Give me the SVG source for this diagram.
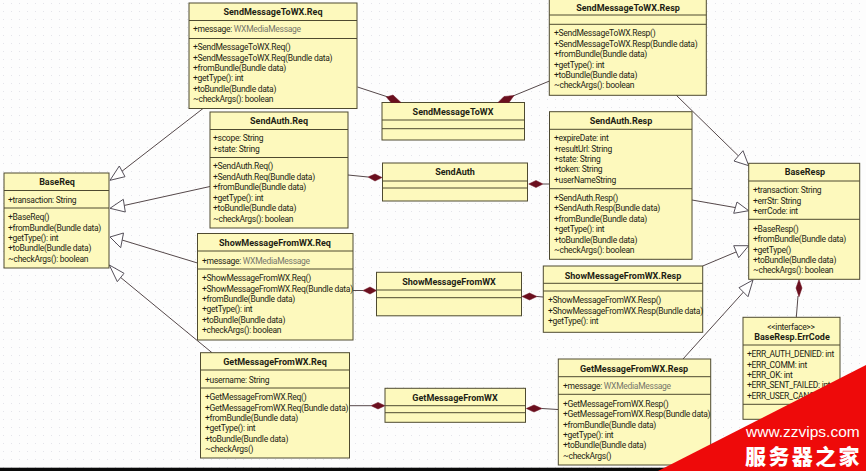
<svg xmlns="http://www.w3.org/2000/svg" width="866" height="471" viewBox="0 0 866 471">
<style>
.b{fill:#fdf9bd;stroke:#4e4a30;stroke-width:1}
.d{stroke:#4e4a30;stroke-width:1;fill:none}
text{font-family:Roboto,"Liberation Sans",Arial,sans-serif;font-size:8.5px;letter-spacing:-.28px;fill:#1e1e14}
.h{font-weight:bold;text-anchor:middle;font-size:9px;letter-spacing:0}
.g{fill:#77776a}
.l{fill:none;stroke:#55484a;stroke-width:1}
.t{fill:#fff;stroke:#55505a;stroke-width:1}
.m{fill:#6b0f1e;stroke:#6b0f1e;stroke-width:.5}
</style>
<defs><pattern id="p" width="8" height="8" patternUnits="userSpaceOnUse"><rect width="8" height="8" fill="#fdfdfd"/><rect x="3" y="3" width="1" height="1" fill="#e4e4ea"/></pattern></defs>
<rect width="866" height="471" fill="url(#p)"/>
<g id="connectors">
<polyline class="l" points="203,108.5 121,172"/><polygon class="t" points="110,180.3 119.3,166 125,176.7"/>
<polyline class="l" points="210,186.5 124,205.5"/><polygon class="t" points="110,208.3 123.3,199.3 125.3,212"/>
<polyline class="l" points="197.5,263 122,240"/><polygon class="t" points="110,237 123.5,233 120.7,247.7"/>
<polyline class="l" points="212,352.7 120.7,277.5"/><polygon class="t" points="109.3,265 124,273.3 117.3,281.7"/>
<polyline class="l" points="676.3,95.3 738.5,156"/><polygon class="t" points="748.7,165.7 743,150.7 734,161"/>
<polyline class="l" points="692,200 735.5,207.6"/><polygon class="t" points="748.7,210.7 737,202 733.7,213.3"/>
<polyline class="l" points="702.7,266 736,252"/><polygon class="t" points="748.7,245.7 733.7,245.7 738.7,257.7"/>
<polyline class="l" points="683,359 743.5,292"/><polygon class="t" points="753,280 739,287.7 748,296.7"/>
<polyline class="l" points="796.3,317.3 798,296"/><polygon class="m" points="799,279.5 802,288 799,296.7 796,288"/>
<polyline class="l" points="357.5,87 388,97"/>
<polyline class="l" points="549.5,81 513,96"/>
<polyline class="l" points="348,175 368,177"/><polygon class="m" points="382,177.5 375,181 368,177 375,174"/>
<polyline class="l" points="549.5,184 543,184"/><polygon class="m" points="528.7,184 536,180.5 543,184 536,187.5"/>
<polyline class="l" points="353,290.5 363,290.5"/><polygon class="m" points="376.5,290.5 370,294 363,290.5 370,287"/>
<polyline class="l" points="543,297 537,296.5"/><polygon class="m" points="522,296.5 529.5,293 537,296.5 529.5,300"/>
<polyline class="l" points="349.5,405.7 371,405.7"/><polygon class="m" points="385,405.7 378,409 371,405.7 378,402.4"/>
<polyline class="l" points="558,409.5 542,408.5"/><polygon class="m" points="526.3,408.5 534,405 542,408.5 534,412"/>
</g>
<g id="SendMessageToWX.Req"><rect class="b" x="189" y="3" width="168" height="105.5"/><path class="d" d="M189 20.5H357M189 38.5H357"/>
<text class="h" x="273" y="15">SendMessageToWX.Req</text>
<text x="193" y="32">+message: <tspan class="g">WXMediaMessage</tspan></text>
<text x="193" y="50">+SendMessageToWX.Req()</text><text x="193" y="60.5">+SendMessageToWX.Req(Bundle data)</text><text x="193" y="71">+fromBundle(Bundle data)</text><text x="193" y="81">+getType(): int</text><text x="193" y="91.5">+toBundle(Bundle data)</text><text x="193" y="102">~checkArgs(): boolean</text></g>
<g id="SendAuth.Req"><rect class="b" x="210" y="112" width="138" height="116"/><path class="d" d="M210 129.5H348M210 157.5H348"/>
<text class="h" x="279" y="124">SendAuth.Req</text>
<text x="213" y="141">+scope: String</text><text x="213" y="151.5">+state: String</text>
<text x="213" y="169">+SendAuth.Req()</text><text x="213" y="179.5">+SendAuth.Req(Bundle data)</text><text x="213" y="190">+fromBundle(Bundle data)</text><text x="213" y="200.5">+getType(): int</text><text x="213" y="211">+toBundle(Bundle data)</text><text x="213" y="221.5">~checkArgs(): boolean</text></g>
<g id="BaseReq"><rect class="b" x="4" y="173" width="105" height="95"/><path class="d" d="M4 190.5H109M4 208H109"/>
<text class="h" x="57" y="185">BaseReq</text>
<text x="8" y="202.5">+transaction: String</text>
<text x="8" y="220">+BaseReq()</text><text x="8" y="230.5">+fromBundle(Bundle data)</text><text x="8" y="241">+getType(): int</text><text x="8" y="251">+toBundle(Bundle data)</text><text x="8" y="262">~checkArgs(): boolean</text></g>
<g id="ShowMessageFromWX.Req"><rect class="b" x="197.5" y="233.5" width="155.5" height="106.5"/><path class="d" d="M197.5 251H353M197.5 269H353"/>
<text class="h" x="275" y="246">ShowMessageFromWX.Req</text>
<text x="202" y="263.5">+message: <tspan class="g">WXMediaMessage</tspan></text>
<text x="202" y="281">+ShowMessageFromWX.Req()</text><text x="202" y="291.5">+ShowMessageFromWX.Req(Bundle data)</text><text x="202" y="302">+fromBundle(Bundle data)</text><text x="202" y="312">+getType(): int</text><text x="202" y="322.5">+toBundle(Bundle data)</text><text x="202" y="333">+checkArgs(): boolean</text></g>
<g id="GetMessageFromWX.Req"><rect class="b" x="200.5" y="352.7" width="149" height="105.3"/><path class="d" d="M200.5 370H349.5M200.5 388H349.5"/>
<text class="h" x="275" y="365">GetMessageFromWX.Req</text>
<text x="205" y="382.5">+username: String</text>
<text x="205" y="400">+GetMessageFromWX.Req()</text><text x="205" y="410.5">+GetMessageFromWX.Req(Bundle data)</text><text x="205" y="421">+fromBundle(Bundle data)</text><text x="205" y="431">+getType(): int</text><text x="205" y="441.5">+toBundle(Bundle data)</text><text x="205" y="452">~checkArgs()</text></g>
<g id="SendMessageToWX"><rect class="b" x="382" y="102.5" width="142.5" height="37.5"/><path class="d" d="M382 120H524.5M382 128.7H524.5"/><text class="h" x="453" y="115">SendMessageToWX</text></g>
<g id="SendAuth"><rect class="b" x="382.5" y="163" width="145" height="38"/><path class="d" d="M382.5 181H527.5M382.5 188H527.5"/><text class="h" x="455" y="175">SendAuth</text></g>
<g id="ShowMessageFromWX"><rect class="b" x="376.5" y="272.3" width="145" height="43.5"/><path class="d" d="M376.5 290H521.5M376.5 297.7H521.5"/><text class="h" x="449" y="285">ShowMessageFromWX</text></g>
<g id="GetMessageFromWX"><rect class="b" x="385" y="388.3" width="140.5" height="34"/><path class="d" d="M385 405.7H525.5M385 412.7H525.5"/><text class="h" x="455" y="401">GetMessageFromWX</text></g>
<g id="SendMessageToWX.Resp"><rect class="b" x="549.3" y="-2" width="157" height="97.3"/><path class="d" d="M549.3 15H706.3M549.3 24.3H706.3"/>
<text class="h" x="628" y="11">SendMessageToWX.Resp</text>
<text x="554" y="36">+SendMessageToWX.Resp()</text><text x="554" y="46.5">+SendMessageToWX.Resp(Bundle data)</text><text x="554" y="57">+fromBundle(Bundle data)</text><text x="554" y="67.5">+getType(): int</text><text x="554" y="78">+toBundle(Bundle data)</text><text x="554" y="88">~checkArgs(): boolean</text></g>
<g id="SendAuth.Resp"><rect class="b" x="549.5" y="111.7" width="142.5" height="147.6"/><path class="d" d="M549.5 129.3H692M549.5 188.7H692"/>
<text class="h" x="621" y="124">SendAuth.Resp</text>
<text x="554" y="141">+expireDate: int</text><text x="554" y="151.5">+resultUrl: String</text><text x="554" y="162">+state: String</text><text x="554" y="172">+token: String</text><text x="554" y="183">+userNameString</text>
<text x="554" y="201">+SendAuth.Resp()</text><text x="554" y="211">+SendAuth.Resp(Bundle data)</text><text x="554" y="221.5">+fromBundle(Bundle data)</text><text x="554" y="232">+getType(): int</text><text x="554" y="242.5">+toBundle(Bundle data)</text><text x="554" y="253">~checkArgs(): boolean</text></g>
<g id="BaseResp"><rect class="b" x="748.7" y="163.3" width="111" height="116"/><path class="d" d="M748.7 181H859.7M748.7 219.3H859.7"/>
<text class="h" x="805" y="175">BaseResp</text>
<text x="753" y="193">+transaction: String</text><text x="753" y="203.5">+errStr: String</text><text x="753" y="214">+errCode: int</text>
<text x="753" y="231.5">+BaseResp()</text><text x="753" y="242">+fromBundle(Bundle data)</text><text x="753" y="252.5">+getType()</text><text x="753" y="263">+toBundle(Bundle data)</text><text x="753" y="273">~checkArgs(): boolean</text></g>
<g id="ShowMessageFromWX.Resp"><rect class="b" x="543.3" y="266" width="159.4" height="66.3"/><path class="d" d="M543.3 283.3H702.7M543.3 291H702.7"/>
<text class="h" x="623" y="278.5">ShowMessageFromWX.Resp</text>
<text x="548" y="303">+ShowMessageFromWX.Resp()</text><text x="548" y="313.5">+ShowMessageFromWX.Resp(Bundle data)</text><text x="548" y="324">+getType(): int</text></g>
<g id="GetMessageFromWX.Resp"><rect class="b" x="558.3" y="359" width="152.4" height="106"/><path class="d" d="M558.3 376.7H710.7M558.3 394.3H710.7"/>
<text class="h" x="634" y="371.5">GetMessageFromWX.Resp</text>
<text x="563" y="389">+message: <tspan class="g">WXMediaMessage</tspan></text>
<text x="563" y="406.5">+GetMessageFromWX.Resp()</text><text x="563" y="417">+GetMessageFromWX.Resp(Bundle data)</text><text x="563" y="427.5">+fromBundle(Bundle data)</text><text x="563" y="438">+getType(): int</text><text x="563" y="448">+toBundle(Bundle data)</text><text x="563" y="458.5">~checkArgs()</text></g>
<g id="BaseResp.ErrCode"><rect class="b" x="743" y="317.3" width="97" height="102"/><path class="d" d="M743 345H840M743 404.3H840"/>
<text x="791" y="329.5" text-anchor="middle">&lt;&lt;interface&gt;&gt;</text>
<text class="h" x="792" y="340">BaseResp.ErrCode</text>
<text x="747" y="357">+ERR_AUTH_DENIED: int</text><text x="747" y="367.5">+ERR_COMM: int</text><text x="747" y="378">+ERR_OK: int</text><text x="747" y="388">+ERR_SENT_FAILED: int</text><text x="747" y="398.5">+ERR_USER_CANCEL: int</text></g>
<g id="aggregation-ends"><polygon class="m" points="401,102.5 391,102.5 386.5,97 393,95"/><polygon class="m" points="498,102.5 504,96.5 514,95.5 509,102.5"/></g>
<rect x="0" y="467.7" width="866" height="3.3" fill="#0a0a0a"/>
<polygon points="658,471 866,365 866,471" fill="#ee0a0a"/>
<text x="746" y="436.5" style="font-size:15.5px;letter-spacing:0;fill:#fff;font-family:'Liberation Sans',sans-serif">www.zzvips.com</text>
<text x="745" y="464" style="font-family:'Noto Sans CJK SC',sans-serif;font-weight:900;font-size:21px;letter-spacing:2.4px;fill:#fff">服务器之家</text>
</svg>
